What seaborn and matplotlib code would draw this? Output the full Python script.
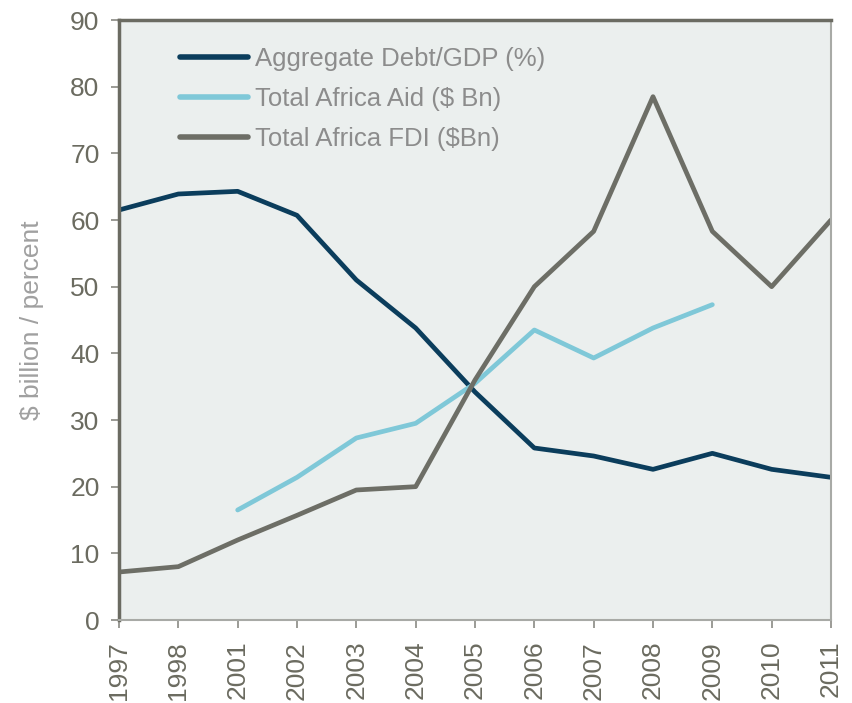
import pandas as pd
import matplotlib
matplotlib.use("Agg")
import matplotlib.pyplot as plt
import seaborn as sns

# Data
years = ["1997", "1998", "2001", "2002", "2003", "2004", "2005",
         "2006", "2007", "2008", "2009", "2010", "2011"]
debt_gdp = [61.5, 63.9, 64.3, 60.7, 51.0, 43.8, 34.2, 25.8, 24.6, 22.6, 25.0, 22.6, 21.4]
africa_aid = [None, None, 16.5, 21.4, 27.3, 29.5, 35.5, 43.5, 39.3, 43.8, 47.3, None, None]
africa_fdi = [7.2, 8.0, 12.0, 15.7, 19.5, 20.0, 36.0, 50.0, 58.3, 78.5, 58.3, 50.0, 60.0]

series_names = ["Aggregate Debt/GDP (%)", "Total Africa Aid ($ Bn)", "Total Africa FDI ($Bn)"]
colors = ["#0b3d5c", "#7fc8d8", "#6d6e66"]

df = pd.DataFrame({
    "year": years * 3,
    "pos": list(range(len(years))) * 3,
    "value": debt_gdp + africa_aid + africa_fdi,
    "series": [series_names[0]] * len(years) + [series_names[1]] * len(years) + [series_names[2]] * len(years),
})

sns.set_style("white")
plt.rcParams['font.family'] = ['Liberation Sans', 'DejaVu Sans']

fig = plt.figure(figsize=(8.52, 7.03), dpi=100)
ax = fig.add_axes([119 / 852, 1 - 620 / 703, (831 - 119) / 852, 600 / 703])
ax.set_facecolor("#ebefee")

sns.lineplot(data=df.dropna(), x="pos", y="value", hue="series", hue_order=series_names,
             palette=colors, linewidth=3.4, ax=ax, solid_capstyle="round")

ax.set_xlim(0, len(years) - 1)
ax.set_ylim(0, 90)
ax.set_xticks(range(len(years)))
ax.set_xticklabels(years, rotation=90)
ax.set_yticks(range(0, 91, 10))

spine_col = "#6b6b62"
for s in ["left", "top"]:
    ax.spines[s].set_color(spine_col)
    ax.spines[s].set_linewidth(2.5)
for s in ["right", "bottom"]:
    ax.spines[s].set_color("#a8aaa6")
    ax.spines[s].set_linewidth(1.5)

ax.tick_params(axis="both", direction="out", length=6, width=1.2, color="#8a8a84",
               labelsize=19, labelcolor="#6b6b60")
ax.tick_params(axis="x", bottom=True, pad=9)
ax.tick_params(axis="y", left=True, pad=8)

ax.set_xlabel("")
ax.set_ylabel("$ billion / percent", fontsize=19, color="#a0a0a0", labelpad=19)

leg = ax.legend(loc="upper left", bbox_to_anchor=(0.086, 0.955), frameon=False,
                borderpad=0, borderaxespad=0,
                fontsize=18.5, handlelength=2.65, handletextpad=0.25, labelspacing=0.63)
for t in leg.get_texts():
    t.set_color("#8c8c8c")
for h in leg.get_lines():
    h.set_linewidth(4)

fig.savefig("out.png", dpi=100)
